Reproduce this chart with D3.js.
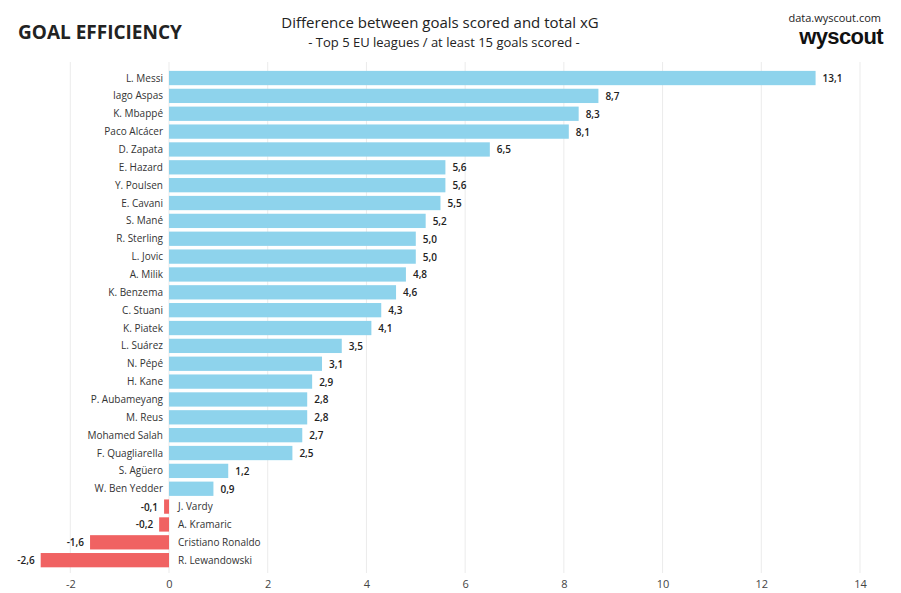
<!DOCTYPE html>
<html><head><meta charset="utf-8">
<script src="https://cdn.jsdelivr.net/npm/d3@7"></script>
<style>
body{margin:0;background:#fff;}
svg{display:block;font-family:"Open Sans","Noto Sans",sans-serif;}
</style></head>
<body><svg id="c" width="901" height="593"></svg>
<script>
const players = ["L. Messi","Iago Aspas","K. Mbappé","Paco Alcácer","D. Zapata","E. Hazard","Y. Poulsen","E. Cavani","S. Mané","R. Sterling","L. Jovic","A. Milik","K. Benzema","C. Stuani","K. Piatek","L. Suárez","N. Pépé","H. Kane","P. Aubameyang","M. Reus","Mohamed Salah","F. Quagliarella","S. Agüero","W. Ben Yedder","J. Vardy","A. Kramaric","Cristiano Ronaldo","R. Lewandowski"];
const diff = [13.1,8.7,8.3,8.1,6.5,5.6,5.6,5.5,5.2,5.0,5.0,4.8,4.6,4.3,4.1,3.5,3.1,2.9,2.8,2.8,2.7,2.5,1.2,0.9,-0.1,-0.2,-1.6,-2.6];
const xTicks = [-2,0,2,4,6,8,10,12,14];

const svg = d3.select("#c");
const x = d3.scaleLinear().domain([-2,14]).range([70.3,860]);
const y = d3.scaleBand().domain(players).range([69.1,569.1]).paddingInner(0.2).paddingOuter(0.1);
const fmt = v => d3.format(".1f")(v).replace(".", ",").replace("−","-");

// gridlines
svg.append("g").selectAll("line").data(xTicks).join("line")
  .attr("x1", d=>x(d)).attr("x2", d=>x(d))
  .attr("y1", 62).attr("y2", 573)
  .attr("stroke", "#ebebeb").attr("stroke-width", 1);

// axis labels
const ax = svg.append("g").attr("transform","translate(0,573)")
  .call(d3.axisBottom(x).tickValues(xTicks).tickSize(0).tickPadding(7).tickFormat(d=>d<0?"-"+Math.abs(d):d));
ax.select(".domain").remove();
ax.selectAll("text").attr("font-size",11).attr("fill","#444").attr("font-family","'Open Sans','Noto Sans',sans-serif");

// bars
svg.append("g").selectAll("rect").data(players).join("rect")
  .attr("x", (d,i)=>x(Math.min(0,diff[i])))
  .attr("y", d=>y(d))
  .attr("width", (d,i)=>Math.abs(x(diff[i])-x(0)))
  .attr("height", y.bandwidth())
  .attr("fill", (d,i)=>diff[i]>=0?"#8ed3ec":"#f06262");

// names
svg.append("g").selectAll("text").data(players).join("text")
  .attr("x", (d,i)=>diff[i]>=0? x(0)-6 : x(0)+9)
  .attr("y", d=>y(d)+y.bandwidth()/2)
  .attr("dy","0.35em")
  .attr("text-anchor",(d,i)=>diff[i]>=0?"end":"start")
  .attr("font-size",10).attr("fill","#333")
  .text(d=>d);

// values
svg.append("g").selectAll("text").data(players).join("text")
  .attr("x", (d,i)=>diff[i]>=0? x(diff[i])+7 : x(diff[i])-6)
  .attr("y", d=>y(d)+y.bandwidth()/2)
  .attr("dy","0.4em")
  .attr("text-anchor",(d,i)=>diff[i]>=0?"start":"end")
  .attr("font-size",10).attr("font-weight",600).attr("fill","#222")
  .text((d,i)=>fmt(diff[i]));

// header
svg.append("text").attr("x",18).attr("y",39).attr("font-size",19).attr("font-weight",700)
  .attr("fill","#222").attr("font-family","'Open Sans',sans-serif").text("GOAL EFFICIENCY");
svg.append("text").attr("x",440).attr("y",28).attr("text-anchor","middle").attr("font-size",15)
  .attr("fill","#222").text("Difference between goals scored and total xG");
svg.append("text").attr("x",444).attr("y",47).attr("text-anchor","middle").attr("font-size",13)
  .attr("fill","#222").text("- Top 5 EU leagues / at least 15 goals scored -");
svg.append("text").attr("x",881).attr("y",22).attr("text-anchor","end").attr("font-size",11)
  .attr("fill","#222").text("data.wyscout.com");
svg.append("text").attr("x",883).attr("y",44).attr("text-anchor","end").attr("font-size",22)
  .attr("font-family","'Liberation Sans',Arial,sans-serif")
  .attr("font-weight",700).attr("letter-spacing","-0.6").attr("fill","#111").text("wyscout");
</script></body></html>
